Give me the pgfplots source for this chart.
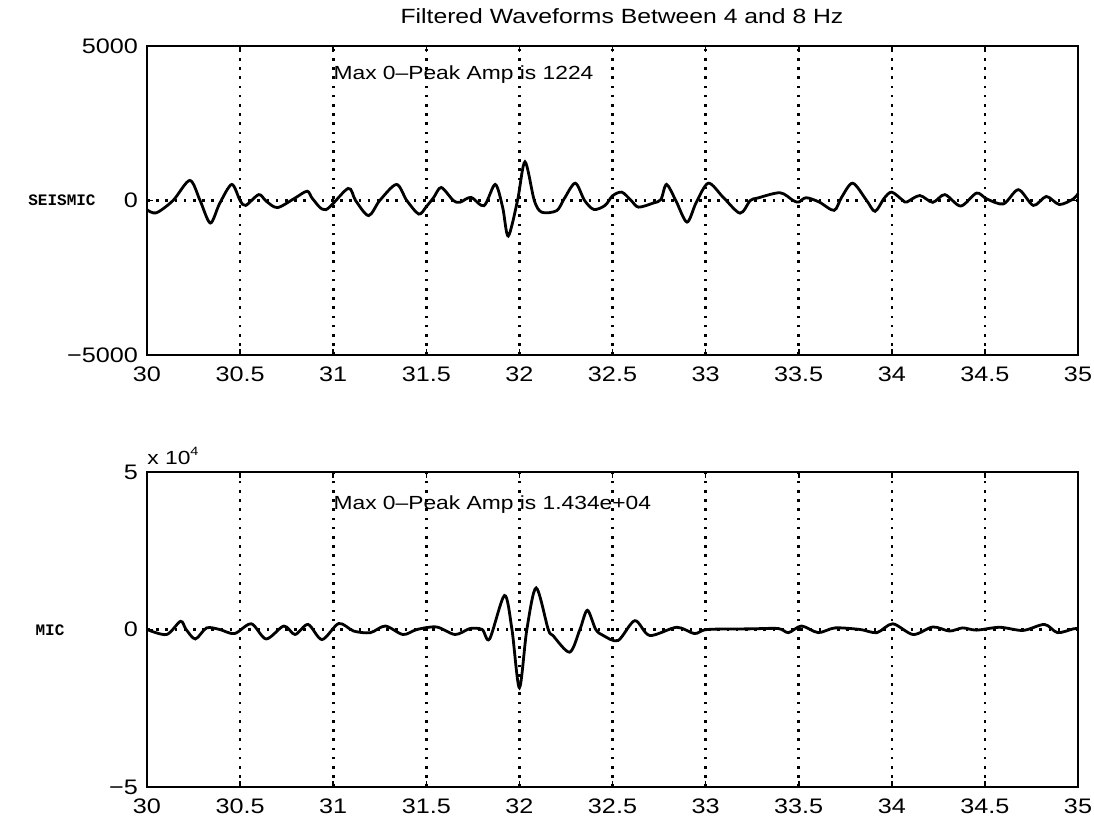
\documentclass[border=0pt]{standalone}
\usepackage{fontspec}
\setmainfont[FakeStretch=1.2]{Liberation Sans}
\newfontfamily\monof{Liberation Mono}
\usepackage{pgfplots}
\pgfplotsset{compat=1.18}
\pgfplotsset{wave/.style={
  scale only axis, width=465.5pt, anchor=south west,
  xmin=30, xmax=35,
  xtick={30,30.5,31,31.5,32,32.5,33,33.5,34,34.5,35},
  xticklabels={30,30.5,31,31.5,32,32.5,33,33.5,34,34.5,35},
  grid=major,
  major grid style={black, line width=1.3pt, dash pattern=on 1.3pt off 3.3pt},
  axis line style={line width=1.2pt},
  tick style={black, line width=0.8pt},
  major tick length=3pt, tick align=inside,
  ticklabel style={font=\fontsize{10.5}{12}\selectfont},
  xticklabel style={yshift=-2.5pt},
  yticklabel style={xshift=-1pt},
  clip=false,
}}
\begin{document}
\begin{tikzpicture}
\useasboundingbox (0,0) rectangle (547pt,411pt);
\node[font=\fontsize{10.3}{12}\selectfont] at (311pt,403pt) {Filtered Waveforms Between 4 and 8 Hz};
\node[font=\monof\bfseries\fontsize{8}{9}\selectfont] at (31pt,311pt) {SEISMIC};
\node[font=\monof\bfseries\fontsize{8}{9}\selectfont] at (25pt,96pt) {MIC};
\begin{axis}[wave, at={(73.5pt,233.5pt)}, height=154.5pt,
  ymin=-5000, ymax=5000, ytick={-5000,0,5000}, yticklabels={−5000,0,5000}]
\addplot[black, line width=1.4pt, smooth, tension=0.5] coordinates {
(30.0,-300) (30.05,-400) (30.14,0) (30.23,650) (30.285,0) (30.34,-730) (30.39,-100) (30.455,520) (30.5,0) (30.53,-160) (30.6,190) (30.64,-20) (30.70,-230) (30.79,60) (30.86,300) (30.89,50) (30.96,-300) (31.08,390) (31.12,0) (31.19,-490) (31.25,0) (31.34,520) (31.395,0) (31.46,-440) (31.50,-200) (31.54,100) (31.58,420) (31.645,0) (31.68,-60) (31.74,100) (31.81,-170) (31.87,520) (31.91,-220) (31.94,-1150) (31.99,0) (32.03,1250) (32.08,0) (32.12,-380) (32.2,-330) (32.24,50) (32.30,560) (32.35,0) (32.40,-290) (32.46,-160) (32.50,150) (32.55,270) (32.6,0) (32.64,-215) (32.72,-80) (32.76,30) (32.79,520) (32.84,0) (32.90,-700) (32.95,-60) (33.015,560) (33.095,100) (33.185,-410) (33.24,0) (33.28,80) (33.40,250) (33.47,0) (33.5,-50) (33.54,90) (33.61,-50) (33.69,-320) (33.73,100) (33.79,560) (33.865,0) (33.91,-350) (33.96,80) (34.0,270) (34.06,0) (34.08,-50) (34.15,160) (34.22,-60) (34.285,190) (34.37,-180) (34.455,240) (34.51,50) (34.60,-110) (34.68,350) (34.76,-160) (34.83,130) (34.90,-130) (34.975,50) (35.0,220)
};
\node[anchor=west, font=\fontsize{9.5}{11}\selectfont, inner sep=0pt] at (axis cs:31.0,4060) {Max 0--Peak Amp is 1224};
\end{axis}
\node[anchor=west, font=\fontsize{9.5}{10}\selectfont, inner sep=0pt] at (73.5pt,183pt) {x 10\raisebox{0.9ex}{\fontsize{6}{7}\selectfont 4}};
\begin{axis}[wave, at={(73.5pt,17.5pt)}, height=157.5pt,
  ymin=-5, ymax=5, ytick={-5,0,5}, yticklabels={−5,0,5}]
\addplot[black, line width=1.4pt, smooth, tension=0.5] coordinates {
(30.0,0) (30.105,-0.16) (30.18,0.26) (30.21,0) (30.26,-0.30) (30.32,0.05) (30.39,0) (30.47,-0.13) (30.56,0.18) (30.64,-0.30) (30.735,0.11) (30.795,-0.16) (30.865,0.16) (30.94,-0.32) (31.03,0.19) (31.11,-0.05) (31.20,-0.10) (31.28,0.11) (31.375,-0.16) (31.45,0) (31.555,0.08) (31.655,-0.16) (31.735,0.03) (31.80,0) (31.84,-0.30) (31.92,1.08) (31.96,0) (32.0,-1.85) (32.04,0) (32.09,1.32) (32.155,0) (32.18,-0.19) (32.27,-0.72) (32.325,0) (32.365,0.61) (32.41,0) (32.45,-0.19) (32.53,-0.35) (32.62,0.28) (32.70,-0.19) (32.845,0.07) (32.94,-0.13) (33.01,0) (33.24,0.02) (33.39,0.03) (33.445,-0.10) (33.515,0.11) (33.605,-0.10) (33.695,0.05) (33.83,0) (33.92,-0.10) (34.005,0.18) (34.115,-0.16) (34.22,0.08) (34.31,-0.05) (34.38,0.05) (34.455,-0.02) (34.58,0.07) (34.705,-0.03) (34.82,0.16) (34.89,-0.10) (34.975,0.02) (35,0.03)
};
\node[anchor=west, font=\fontsize{9.5}{11}\selectfont, inner sep=0pt] at (axis cs:31.0,3.96) {Max 0--Peak Amp is 1.434e+04};
\end{axis}
\end{tikzpicture}
\end{document}
